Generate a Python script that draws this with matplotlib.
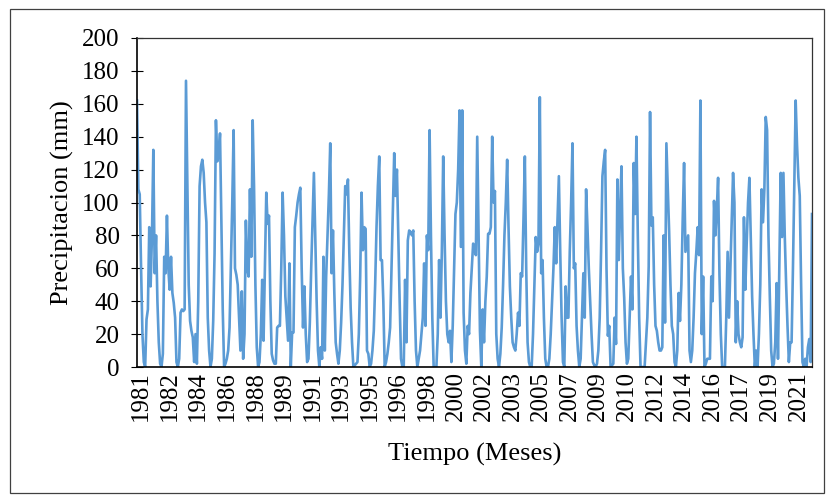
import matplotlib
matplotlib.use("Agg")
import matplotlib.pyplot as plt
from matplotlib.patches import Rectangle
import numpy as np

# Monthly precipitation (mm), Jan 1981 - May 2022
p1981_1990 = [
    162,108,105,60,20,3,0,29,35,85,49,80,
    132,57,80,40,15,2,0,8,67,57,92,60,
    47,67,45,39,30,3,0,5,33,35,34,35,
    174,110,50,28,22,18,3,20,2,40,110,122,
    126,118,100,88,30,10,0,5,28,69,150,125,
    129,142,90,35,0,2,5,10,24,61,100,144,
    60,56,50,30,10,46,5,20,89,60,55,108,
    67,150,110,50,12,0,3,20,53,16,60,106,
    87,92,40,8,4,2,2,24,25,25,60,106,
    80,43,30,16,63,0,21,21,85,92,100,105,
]
p1991_2000 = [
    109,60,24,49,20,3,5,27,60,90,118,80,
    40,10,0,12,5,67,10,55,80,105,136,57,
    83,45,15,8,2,10,27,50,80,110,105,114,
    70,36,15,0,1,2,3,20,55,106,71,85,
    84,10,8,0,2,10,22,50,85,110,128,65,
    65,40,0,3,8,15,24,60,95,130,104,120,
    80,40,5,0,0,53,15,77,83,82,80,83,
    40,10,0,5,10,20,30,63,25,80,71,144,
    80,30,0,0,0,20,65,30,70,128,80,40,
    20,15,22,3,25,60,93,100,120,156,73,156,
]
p2001_2010 = [
    33,10,2,25,20,45,60,75,72,68,140,80,
    22,0,35,15,40,55,81,81,85,140,100,107,
    20,5,0,8,24,50,80,100,126,85,49,30,
    15,12,10,20,33,25,57,55,90,128,60,15,
    3,0,0,20,50,79,70,75,164,57,65,30,
    5,0,0,5,20,40,60,85,63,90,116,70,
    30,3,0,49,30,30,70,100,136,60,63,25,
    10,0,5,30,57,30,108,85,60,40,20,3,
    1,0,2,10,30,70,116,125,132,60,19,25,
    0,1,2,30,14,114,65,95,122,60,42,15,
]
p2011_2022 = [
    2,5,30,55,35,124,93,140,80,30,0,0,
    0,0,15,30,61,155,86,91,50,25,22,15,
    10,10,12,80,27,136,110,83,50,25,20,3,
    0,10,45,28,50,90,124,70,75,80,10,3,
    10,30,57,70,85,68,162,20,55,0,2,5,
    5,5,55,40,101,80,95,115,56,20,0,0,
    0,30,70,30,60,90,118,100,15,40,20,15,
    12,18,91,47,75,100,115,80,43,20,0,10,
    0,20,50,108,88,108,152,144,80,43,10,0,
    2,15,51,5,60,118,79,118,79,50,25,3,
    15,15,60,110,162,135,115,104,50,3,0,5,
    0,12,17,3,93,
]
tick_years = ["1981","1982","1984","1986","1988","1989","1991","1993","1995",
              "1996","1998","2000","2002","2003","2005","2007","2009","2010",
              "2012","2014","2016","2017","2019","2021"]

values = np.array(p1981_1990 + p1991_2000 + p2001_2010 + p2011_2022, dtype=float)
x = np.arange(len(values))

plt.rcParams['font.family'] = ['Liberation Serif', 'DejaVu Serif']

fig = plt.figure(figsize=(8.27, 4.95), dpi=100)
ax = fig.add_axes([137/827, 1-367/495, (812-137)/827, (367-38)/495])

ax.plot(x, values, color='#5B9BD5', lw=1.9, solid_joinstyle='round')

ax.set_xlim(0, len(values)-1)
ax.set_ylim(0, 200)
ax.set_yticks(np.arange(0, 201, 20))
ax.tick_params(axis='y', labelsize=18, direction='inout', length=9, width=0.8, pad=8)

tick_pos = [3 + 21*k for k in range(len(tick_years))]
ax.set_xticks(tick_pos)
ax.set_xticklabels(tick_years, rotation=90, fontsize=18)
ax.tick_params(axis='x', direction='out', length=0, pad=3)

for side in ['left', 'bottom']:
    ax.spines[side].set_color('black')
    ax.spines[side].set_linewidth(1.2)
for side in ['top', 'right']:
    ax.spines[side].set_color('#333333')
    ax.spines[side].set_linewidth(0.9)

ax.set_ylabel('Precipitacion (mm)', fontsize=19)
ax.yaxis.set_label_coords(-0.094, 0.5)
ax.set_xlabel('Tiempo (Meses)', fontsize=19)
ax.xaxis.set_label_coords(0.5, -0.232)

fig.patches.append(Rectangle((10/827, 1-493/495), (824-10)/827, (493-9)/495,
                             transform=fig.transFigure, fill=False,
                             edgecolor='#404040', lw=0.9))

fig.savefig('out.png', dpi=100)
